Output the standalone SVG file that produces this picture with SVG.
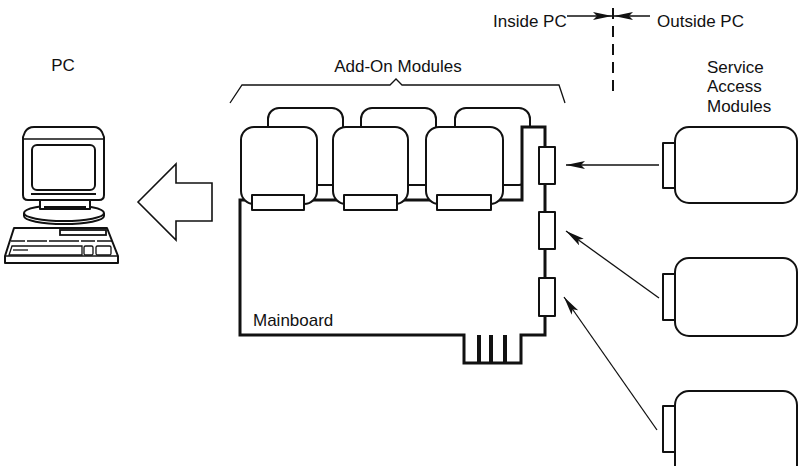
<svg xmlns="http://www.w3.org/2000/svg" width="799" height="466" viewBox="0 0 799 466">
  <style>
    .lbl { font-family: "Liberation Sans", Arial, sans-serif; font-size: 17px; fill: #111; }
    .thin { fill: #fff; stroke: #111; stroke-width: 2; stroke-linejoin: round; }
    .thick { fill: #fff; stroke: #111; stroke-width: 3; stroke-linejoin: miter; }
    .wire { fill: none; stroke: #111; stroke-width: 1.3; }
    .ink { fill: none; stroke: #111; stroke-width: 2; }
  </style>
  <defs>
    <marker id="head" markerUnits="userSpaceOnUse" markerWidth="20" markerHeight="10" refX="19" refY="4" orient="auto">
      <path d="M0,0 L19,4 L0,8 L4,4 Z" fill="#111"/>
    </marker>
  </defs>
  <rect width="799" height="466" fill="#fff"/>

  <!-- PC workstation -->
  <g id="pc">
    <text class="lbl" x="63" y="71" text-anchor="middle">PC</text>
    <!-- monitor base -->
    <path d="M24,213 v3 a40 8 0 0 0 80 0 v-3" class="thin"/>
    <ellipse cx="64" cy="213" rx="40" ry="8" class="thin"/>
    <rect x="40" y="200" width="50" height="9" class="thin"/>
    <line x1="44" y1="207" x2="86" y2="207" class="ink"/>
    <!-- monitor body -->
    <path d="M34,127 H94 Q99,127 102,132 L104,137 V195 Q104,200 99,200 H28 Q23,200 23,195 V137 L25,132 Q28,127 34,127 Z" class="thin"/>
    <line x1="23" y1="139" x2="104" y2="139" class="wire"/>
    <rect x="32" y="145" width="63" height="45" rx="5" class="thin"/>
    <line x1="31" y1="194" x2="96" y2="194" stroke="#111" stroke-width="2.2"/>
    <!-- keyboard -->
    <path d="M14,228 H107 L118,256 V263 H5 V256 Z" class="thin"/>
    <line x1="5" y1="256" x2="118" y2="256" class="wire"/>
    <rect x="60" y="230" width="46" height="5" fill="#fff" stroke="#111" stroke-width="1.8"/>
    <line x1="11" y1="241" x2="112" y2="241" stroke="#111" stroke-width="1.6" stroke-dasharray="14 2 20 2 30 2"/>
    <path d="M12,246 H82 V255 H9 Z" class="wire"/>
    <path d="M13,250 H28" class="wire"/>
    <rect x="84" y="246" width="9" height="9" rx="1.5" class="wire"/>
    <rect x="96" y="246" width="15" height="9" rx="1.5" class="wire"/>
  </g>

  <!-- transfer arrow towards the PC -->
  <g id="transfer-arrow">
    <polygon points="138,202 176,164 176,183 212,183 212,221 176,221 176,240" fill="#fff" stroke="#111" stroke-width="1.6" stroke-linejoin="miter"/>
  </g>

  <!-- add-on modules bracket and label -->
  <g id="addon-bracket">
    <text class="lbl" x="398" y="72" text-anchor="middle">Add-On Modules</text>
    <path d="M230,103 L242,85 H390 L396,79 L402,85 H559 L565,103" class="wire"/>
  </g>

  <!-- mainboard with add-on modules -->
  <g id="mainboard">
    <!-- rear module shells -->
    <rect x="268" y="108" width="75" height="77" rx="11" class="thin"/>
    <rect x="361" y="108" width="75" height="77" rx="11" class="thin"/>
    <rect x="455" y="108" width="75" height="77" rx="11" class="thin"/>
    <!-- board outline -->
    <path d="M240,200 H522 V127 H545 V335 H521 V363 H464 V335 H240 Z" class="thick"/>
    <!-- edge connector fingers -->
    <rect x="477" y="335" width="4" height="28" fill="#111"/>
    <rect x="489" y="335" width="4" height="28" fill="#111"/>
    <rect x="503" y="335" width="4" height="28" fill="#111"/>
    <text class="lbl" x="253" y="326">Mainboard</text>
  </g>

  <g id="module-1">
    <rect x="241" y="127" width="76" height="77" rx="13" class="thin"/>
    <rect x="252" y="195" width="52" height="15" class="thin"/>
  </g>
  <g id="module-2">
    <rect x="333" y="127" width="75" height="77" rx="13" class="thin"/>
    <rect x="344" y="195" width="53" height="15" class="thin"/>
  </g>
  <g id="module-3">
    <rect x="426" y="127" width="77" height="77" rx="13" class="thin"/>
    <rect x="437" y="195" width="54" height="15" class="thin"/>
  </g>

  <!-- service ports on the board edge -->
  <g id="ports">
    <rect x="539" y="147" width="16" height="37" class="thin"/>
    <rect x="539" y="212" width="16" height="37" class="thin"/>
    <rect x="539" y="278" width="16" height="38" class="thin"/>
  </g>

  <!-- inside / outside boundary -->
  <g id="boundary">
    <text class="lbl" x="493" y="27">Inside PC</text>
    <text class="lbl" x="657" y="27">Outside PC</text>
    <line x1="613" y1="8" x2="613" y2="98" stroke="#111" stroke-width="2" stroke-dasharray="11 7"/>
  </g>

  <!-- service access modules -->
  <g id="service-label">
    <text class="lbl" x="707" y="73">Service</text>
    <text class="lbl" x="707" y="92">Access</text>
    <text class="lbl" x="707" y="112">Modules</text>
  </g>
  <g id="sam-1">
    <rect x="675" y="127" width="122" height="76" rx="14" class="thin"/>
    <rect x="663" y="143" width="12" height="45" class="thin"/>
  </g>
  <g id="sam-2">
    <rect x="675" y="258" width="122" height="78" rx="14" class="thin"/>
    <rect x="663" y="274" width="12" height="46" class="thin"/>
  </g>
  <g id="sam-3">
    <rect x="675" y="391" width="122" height="90" rx="14" class="thin"/>
    <rect x="663" y="406" width="12" height="46" class="thin"/>
  </g>

  <!-- connectors -->
  <g id="connectors">
    <line x1="659" y1="165" x2="566" y2="165" class="wire" marker-end="url(#head)"/>
    <line x1="659" y1="298" x2="566" y2="231" class="wire" marker-end="url(#head)"/>
    <line x1="657" y1="430" x2="564" y2="297" class="wire" marker-end="url(#head)"/>
    <line x1="567" y1="16" x2="612" y2="16" class="wire" marker-end="url(#head)"/>
    <line x1="650" y1="16" x2="614" y2="16" class="wire" marker-end="url(#head)"/>
  </g>
</svg>
